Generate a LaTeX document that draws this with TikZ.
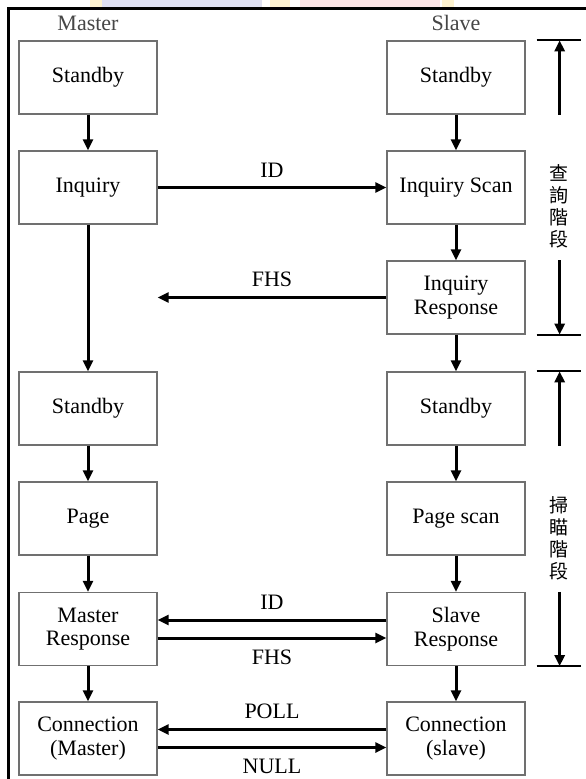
\documentclass[tikz,border=0pt]{standalone}
\usepackage{fontspec}
\setmainfont{Liberation Serif}
\newfontfamily\cjk{Noto Sans CJK TC}
\usetikzlibrary{arrows.meta}
\definecolor{boxgray}{RGB}{112,112,112}
\definecolor{hdrgray}{RGB}{70,70,70}
\definecolor{tintlav}{RGB}{222,224,242}
\definecolor{tintpink}{RGB}{252,228,230}
\definecolor{tintyel}{RGB}{253,243,208}
\begin{document}
\begin{tikzpicture}[x=1pt,y=-1pt,
  state/.style={draw=boxgray, line width=1.3pt, minimum width=138pt,
    minimum height=73pt, inner sep=0pt, align=center,
    font=\fontsize{22}{23.5}\selectfont},
  hdr/.style={text=hdrgray, inner sep=0pt, font=\fontsize{22}{24}\selectfont},
  msg/.style={inner sep=0pt, font=\fontsize{22}{24}\selectfont},
  flow/.style={line width=3pt, -{Triangle[length=11pt,width=10pt]}},
  tick/.style={line width=2.2pt},
  phase/.style={inner sep=0pt, align=center, font=\cjk\fontsize{19}{22.2}\selectfont},
  frame/.style={line width=3pt}]
\useasboundingbox (0,0) rectangle (586,779);
\fill[white] (0,0) rectangle (586,779);
% faint tint strip above the frame
\fill[tintyel] (90,0) rectangle (102,7);
\fill[tintlav] (102,0) rectangle (262,7);
\fill[tintyel] (270,0) rectangle (290,7);
\fill[tintpink] (300,0) rectangle (440,7);
\fill[tintyel] (442,0) rectangle (454,7);
% outer frame (top and left edges)
\draw[frame] (8.5,779) -- (8.5,8.5) -- (586,8.5);

% column headers
\node[hdr] (mh) at (88,23) {Master};
\node[hdr] (sh) at (456,23) {Slave};

% master column
\node[state] (M1) at (88,77.5)  {Standby};
\node[state] (M2) at (88,187.5) {Inquiry};
\node[state] (M4) at (88,408.5) {Standby};
\node[state] (M5) at (88,518.5) {Page};
\node[state] (M6) at (88,629)   {Master\\Response};
\node[state] (M7) at (88,738.5) {Connection\\(Master)};

% slave column
\node[state] (S1) at (456,77.5)  {Standby};
\node[state] (S2) at (456,187.5) {Inquiry Scan};
\node[state] (S3) at (456,297.5) {Inquiry\\Response};
\node[state] (S4) at (456,408.5) {Standby};
\node[state] (S5) at (456,518.5) {Page scan};
\node[state] (S6) at (456,629)   {Slave\\Response};
\node[state] (S7) at (456,738.5) {Connection\\(slave)};

% state transitions
\draw[flow] (M1) -- (M2);
\draw[flow] (M2) -- (M4);
\draw[flow] (M4) -- (M5);
\draw[flow] (M5) -- (M6);
\draw[flow] (M6) -- (M7);
\draw[flow] (S1) -- (S2);
\draw[flow] (S2) -- (S3);
\draw[flow] (S3) -- (S4);
\draw[flow] (S4) -- (S5);
\draw[flow] (S5) -- (S6);
\draw[flow] (S6) -- (S7);

% messages
\draw[flow] (M2) -- (S2);
\node[msg] (lid1) at (272,170) {ID};
\coordinate (fhsend) at (M2.east |- S3.west);
\draw[flow] (S3.west) -- (fhsend);
\node[msg] (lfhs1) at (272,279) {FHS};

\draw[flow] ([yshift=9pt]S6.west) -- ([yshift=9pt]M6.east);
\node[msg] (lid2) at (272,602) {ID};
\draw[flow] ([yshift=-9pt]M6.east) -- ([yshift=-9pt]S6.west);
\node[msg] (lfhs2) at (272,657) {FHS};

\draw[flow] ([yshift=9pt]S7.west) -- ([yshift=9pt]M7.east);
\node[msg] (lpoll) at (272,711) {POLL};
\draw[flow] ([yshift=-9pt]M7.east) -- ([yshift=-9pt]S7.west);
\node[msg] (lnull) at (272,766) {NULL};

% phase brackets on the right
\draw[tick] ([xshift=11pt]S1.north east) -- ([xshift=55pt]S1.north east);
\draw[flow] ([xshift=34pt]S1.south east) -- ([xshift=34pt]S1.north east);
\node[phase] (ph1) at (559,206.5) {查\\詢\\階\\段};
\draw[flow] ([xshift=34pt]S3.north east) -- ([xshift=34pt]S3.south east);
\draw[tick] ([xshift=11pt]S3.south east) -- ([xshift=55pt]S3.south east);

\draw[tick] ([xshift=11pt]S4.north east) -- ([xshift=55pt]S4.north east);
\draw[flow] ([xshift=34pt]S4.south east) -- ([xshift=34pt]S4.north east);
\node[phase] (ph2) at (559,538.5) {掃\\瞄\\階\\段};
\draw[flow] ([xshift=34pt]S6.north east) -- ([xshift=34pt]S6.south east);
\draw[tick] ([xshift=11pt]S6.south east) -- ([xshift=55pt]S6.south east);
\end{tikzpicture}
\end{document}
